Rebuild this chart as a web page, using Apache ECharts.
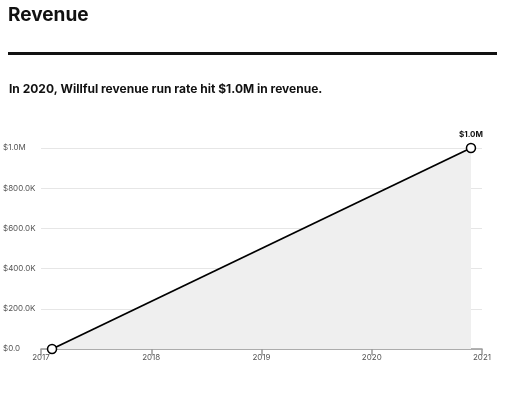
<!DOCTYPE html>
<html><head><meta charset="utf-8">
<script src="https://cdn.jsdelivr.net/npm/echarts@6/dist/echarts.min.js"></script>
<style>html,body{margin:0;padding:0;background:#fff}#c{width:510px;height:411px}</style>
</head><body><div id="c"></div>
<script>
const years = [2017.1, 2020.9];
const values = [0, 1000000];
const yTicks = [0, 200000, 400000, 600000, 800000, 1000000];
const fmt = v => v >= 1000000 ? '$' + (v/1000000).toFixed(1) + 'M' : (v === 0 ? '$0.0' : '$' + (v/1000).toFixed(1) + 'K');
const chart = echarts.init(document.getElementById('c'));
chart.setOption({
  animation: false,
  textStyle: {fontFamily: 'Inter, Roboto, sans-serif'},
  graphic: [
    {type: 'text', left: 8, top: 6, style: {text: 'Revenue', font: 'bold 19px Inter, Roboto, sans-serif', fill: '#111'}},
    {type: 'rect', shape: {x: 8, y: 52, width: 489, height: 3}, style: {fill: '#111'}},
    {type: 'text', left: 9, top: 83, style: {text: 'In 2020, Willful revenue run rate hit $1.0M in revenue.', font: 'bold 12px Inter, Roboto, sans-serif', fill: '#111'}}
  ],
  grid: {left: 41, right: 28, top: 148, bottom: 62},
  xAxis: {
    type: 'value', min: 2017, max: 2021, interval: 1,
    axisLine: {lineStyle: {color: '#999', width: 1.5}},
    axisTick: {show: true, length: 6, lineStyle: {color: '#999', width: 1.5}},
    axisLabel: {color: '#555', fontSize: 8, margin: 5, formatter: v => String(Math.round(v))},
    splitLine: {show: false}
  },
  yAxis: {
    type: 'value', min: 0, max: 1000000, interval: 200000,
    axisLine: {show: false}, axisTick: {show: false},
    axisLabel: {color: '#555', fontSize: 8, align: 'left', margin: 38, padding: [0,0,4,0], formatter: v => yTicks.includes(v) ? fmt(v) : ''},
    splitLine: {lineStyle: {color: '#e6e6e6', width: 1}}
  },
  series: [{
    type: 'line',
    data: years.map((d, i) => [d, values[i]]),
    lineStyle: {color: '#000', width: 1.8},
    areaStyle: {color: '#efefef', opacity: 1},
    symbol: 'circle', symbolSize: 9,
    showAllSymbol: true,
    itemStyle: {color: '#fff', borderColor: '#000', borderWidth: 1.5},
    label: {show: true, position: 'top', fontSize: 8, fontWeight: 'bold', color: '#111', distance: 4,
      formatter: p => p.dataIndex === values.length - 1 ? fmt(p.value[1]) : ''}
  }]
});
</script></body></html>
